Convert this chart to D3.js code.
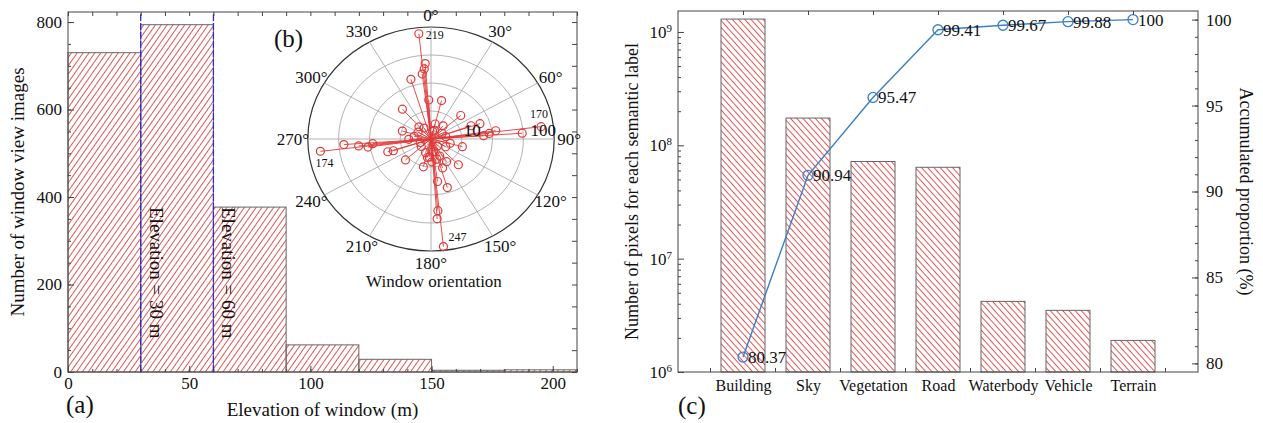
<!DOCTYPE html>
<html>
<head>
<meta charset="utf-8">
<script src="https://cdn.jsdelivr.net/npm/d3@7"></script>
<style>
  body { margin: 0; background: #fff; }
  svg text { font-family: "Liberation Serif", "Times New Roman", serif; fill: #111; }
</style>
</head>
<body>
<svg id="chart" width="1263" height="423"></svg>
<script>
// (a) window elevation histogram
const elevEdges = [0, 30, 60, 90, 120, 150, 180, 210];
const elevCounts = [730, 794, 377, 62, 29, 4, 5];
const elevTicks = [0, 50, 100, 150, 200];
const countTicks = [0, 200, 400, 600, 800];
const elevMarks = [30, 60];
const elevMarkLabels = ['Elevation = 30 m', 'Elevation = 60 m'];

// (b) window orientation, degrees clockwise from north, and counts
// the first four points carry the numbers written next to them
const orientAngles = [354, 83, 263, 174,
  356, 355, 353, 343, 357, 319, 318, 287, 14, 49, 71, 70, 86, 84, 82, 86, 14,
  266, 264, 262, 265, 252, 251, 228, 269, 194, 172, 175, 176, 163, 148, 136, 105, 104, 160,
  330, 80, 60, 170, 200, 230, 300, 20, 120, 250, 280, 140, 40, 190, 10, 185, 165, 178, 155];
const orientCounts = [219, 170, 174, 247,
  47, 36, 28, 24, 7.3, 7.5, 2.3, 4.0, 7.5, 6.2, 11, 7.2, 11.5, 15, 20.6, 69, 2.2,
  57, 29, 19, 15, 8.2, 6.3, 4.9, 2.8, 4.3, 8.9, 39, 59, 13.3, 3.9, 6.2, 4.5, 2.5, 4.8,
  1.9, 2.0, 1.8, 1.9, 2.1, 1.8, 2.0, 1.6, 2.2, 1.7, 2.2, 1.6, 2.4, 2.6, 1.5, 2.5, 2.9, 3.2, 2.6];
const orientNotes = ['219', '170', '174', '247'];
const angleTicks = d3.range(0, 360, 30);
const ringValues = [4.17, 17.3, 72.1, 300];
const radialTicks = [10, 100];

// (c) semantic labels
const categories = ['Building', 'Sky', 'Vegetation', 'Road', 'Waterbody', 'Vehicle', 'Terrain'];
const pixelCounts = [1.30e9, 1.74e8, 7.2e7, 6.4e7, 4.2e6, 3.5e6, 1.9e6];
const accumulated = [80.37, 90.94, 95.47, 99.41, 99.67, 99.88, 100];
const pixelTicks = [1e6, 1e7, 1e8, 1e9];
const propTicks = [80, 85, 90, 95, 100];

const svg = d3.select('#chart');
const axisColor = '#444';
const red = '#e03a3a';
const blueLine = '#3b7fc4';

const defs = svg.append('defs');
function hatch(id, angle, gap, color) {
  const p = defs.append('pattern')
    .attr('id', id)
    .attr('patternUnits', 'userSpaceOnUse')
    .attr('width', gap).attr('height', gap)
    .attr('patternTransform', `rotate(${angle})`);
  p.append('line')
    .attr('x1', gap / 2).attr('y1', 0).attr('x2', gap / 2).attr('y2', gap)
    .attr('stroke', color).attr('stroke-width', 1);
}
hatch('hatchA', 35, 4.8, '#e05252');
hatch('hatchC', -42, 4.6, '#e05252');

function styleAxis(g) {
  g.select('.domain').remove();
  g.selectAll('line').attr('stroke', axisColor);
  g.selectAll('text').attr('fill', '#111');
}

// ---------------- (a) ----------------
const xA = d3.scaleLinear().domain([0, 210]).range([68, 577]);
const yA = d3.scaleLinear().domain([0, 823]).range([372, 12]);
const gA = svg.append('g');

const bins = elevCounts.map((c, i) => ({ x0: elevEdges[i], x1: elevEdges[i + 1], c }));
gA.selectAll('rect.bar')
  .data(bins)
  .enter()
  .append('rect')
  .attr('class', 'bar')
  .attr('x', d => xA(d.x0))
  .attr('y', d => yA(d.c))
  .attr('width', d => xA(d.x1) - xA(d.x0))
  .attr('height', d => yA(0) - yA(d.c))
  .attr('fill', 'url(#hatchA)')
  .attr('stroke', '#666')
  .attr('stroke-width', 1);

gA.selectAll('line.mark')
  .data(elevMarks)
  .enter()
  .append('line')
  .attr('x1', d => xA(d)).attr('x2', d => xA(d))
  .attr('y1', yA(0)).attr('y2', yA.range()[1])
  .attr('stroke', '#2a2ae0')
  .attr('stroke-width', 1.3)
  .attr('stroke-dasharray', '7,2');

gA.selectAll('text.mark')
  .data(elevMarks)
  .enter()
  .append('text')
  .attr('transform', d => `translate(${xA(d) + 9},207) rotate(90)`)
  .attr('font-size', 19)
  .text((d, i) => elevMarkLabels[i]);

gA.append('rect')
  .attr('x', xA(0)).attr('y', yA.range()[1])
  .attr('width', xA(210) - xA(0)).attr('height', yA(0) - yA.range()[1])
  .attr('fill', 'none').attr('stroke', axisColor);

const minorElev = d3.range(0, 211, 10);
const minorCount = d3.range(0, 823, 50);
gA.append('g').attr('transform', `translate(0,${yA(0)})`)
  .call(d3.axisBottom(xA).tickValues(elevTicks).tickSize(-6).tickPadding(5))
  .call(styleAxis).selectAll('text').attr('font-size', 17).attr('font-family', 'Liberation Serif');
gA.append('g').attr('transform', `translate(0,${yA(0)})`)
  .call(d3.axisBottom(xA).tickValues(minorElev).tickSize(-3).tickFormat(''))
  .call(styleAxis);
gA.append('g').attr('transform', `translate(0,${yA.range()[1]})`)
  .call(d3.axisTop(xA).tickValues(minorElev).tickSize(-4).tickFormat(''))
  .call(styleAxis);
gA.append('g').attr('transform', `translate(${xA(0)},0)`)
  .call(d3.axisLeft(yA).tickValues(countTicks).tickSize(-6).tickPadding(6))
  .call(styleAxis).selectAll('text').attr('font-size', 17).attr('font-family', 'Liberation Serif');
gA.append('g').attr('transform', `translate(${xA(0)},0)`)
  .call(d3.axisLeft(yA).tickValues(minorCount).tickSize(-3).tickFormat(''))
  .call(styleAxis);
gA.append('g').attr('transform', `translate(${xA(210)},0)`)
  .call(d3.axisRight(yA).tickValues(minorCount).tickSize(-5).tickFormat(''))
  .call(styleAxis);

gA.append('text')
  .attr('transform', `translate(24,${(yA(0) + yA.range()[1]) / 2}) rotate(-90)`)
  .attr('text-anchor', 'middle')
  .attr('font-size', 19)
  .text('Number of window view images');
gA.append('text')
  .attr('x', (xA(0) + xA(210)) / 2).attr('y', 416)
  .attr('text-anchor', 'middle')
  .attr('font-size', 19)
  .text('Elevation of window (m)');
gA.append('text').attr('x', 66).attr('y', 413).attr('font-size', 25).text('(a)');

// ---------------- (b) ----------------
const R = 112, SX = 1.1, CX = 431, CY = 139;
const rS = d3.scaleLog().domain([1, 300]).range([0, R]);
const rad = a => a * Math.PI / 180;
const pol = (a, r) => [CX + SX * r * Math.sin(rad(a)), CY - r * Math.cos(rad(a))];
const gB = svg.append('g');

gB.selectAll('ellipse.ring')
  .data(ringValues)
  .enter()
  .append('ellipse')
  .attr('cx', CX).attr('cy', CY)
  .attr('rx', d => SX * rS(d)).attr('ry', d => rS(d))
  .attr('fill', 'none')
  .attr('stroke', (d, i) => i === ringValues.length - 1 ? '#333' : '#aaa')
  .attr('stroke-width', (d, i) => i === ringValues.length - 1 ? 1.2 : 0.9);

gB.selectAll('line.spoke')
  .data(angleTicks)
  .enter()
  .append('line')
  .attr('x1', d => pol(d, 0)[0]).attr('y1', d => pol(d, 0)[1])
  .attr('x2', d => pol(d, R)[0]).attr('y2', d => pol(d, R)[1])
  .attr('stroke', '#aaa').attr('stroke-width', 0.9);

gB.selectAll('text.ang')
  .data(angleTicks)
  .enter()
  .append('text')
  .attr('x', d => CX + (SX * R + 15) * Math.sin(rad(d)))
  .attr('y', d => CY - (R + 12) * Math.cos(rad(d)))
  .attr('text-anchor', 'middle')
  .attr('dominant-baseline', 'central')
  .attr('font-size', 17)
  .text(d => d + '°');

const pts = orientAngles.map((a, i) => ({ a, v: orientCounts[i], i }));
gB.selectAll('line.stem')
  .data(pts)
  .enter()
  .append('line')
  .attr('x1', CX).attr('y1', CY)
  .attr('x2', d => pol(d.a, rS(d.v))[0])
  .attr('y2', d => pol(d.a, rS(d.v))[1])
  .attr('stroke', red).attr('stroke-width', 0.9);
gB.selectAll('circle.pt')
  .data(pts)
  .enter()
  .append('circle')
  .attr('cx', d => pol(d.a, rS(d.v))[0])
  .attr('cy', d => pol(d.a, rS(d.v))[1])
  .attr('r', 4)
  .attr('fill', 'none')
  .attr('stroke', red).attr('stroke-width', 1.2);

const noteShift = [[7, 5, 'start'], [-2, -9, 'middle'], [4, 16, 'middle'], [5, -6, 'start']];
gB.selectAll('text.note')
  .data(orientNotes)
  .enter()
  .append('text')
  .attr('x', (d, i) => pol(orientAngles[i], rS(orientCounts[i]))[0] + noteShift[i][0])
  .attr('y', (d, i) => pol(orientAngles[i], rS(orientCounts[i]))[1] + noteShift[i][1])
  .attr('text-anchor', (d, i) => noteShift[i][2])
  .attr('font-size', 12)
  .text(d => d);

gB.selectAll('text.rtick')
  .data(radialTicks)
  .enter()
  .append('text')
  .attr('x', d => pol(90, rS(d))[0])
  .attr('y', CY - 3)
  .attr('text-anchor', (d, i) => i === 0 ? 'end' : 'start')
  .attr('font-size', 17)
  .text(d => d);

gB.append('text').attr('x', 274).attr('y', 47).attr('font-size', 25).text('(b)');
gB.append('text').attr('x', CX + 3).attr('y', 287)
  .attr('text-anchor', 'middle').attr('font-size', 17).text('Window orientation');

// ---------------- (c) ----------------
const xC = d3.scalePoint().domain(categories).range([678, 1198]).padding(1);
const yL = d3.scaleLog().domain([1e6, Math.pow(10, 9.185)]).range([372, 11]);
const yR = d3.scaleLinear().domain([79.5, 100.5]).range([372, 11]);
const gC = svg.append('g');
const barW = 44;

gC.selectAll('rect.bar')
  .data(categories)
  .enter()
  .append('rect')
  .attr('x', d => xC(d) - barW / 2)
  .attr('y', (d, i) => yL(pixelCounts[i]))
  .attr('width', barW)
  .attr('height', (d, i) => yL.range()[0] - yL(pixelCounts[i]))
  .attr('fill', 'url(#hatchC)')
  .attr('stroke', '#666').attr('stroke-width', 1);

gC.append('rect')
  .attr('x', 678).attr('y', 11).attr('width', 520).attr('height', 361)
  .attr('fill', 'none').attr('stroke', axisColor);

const line = d3.line().x((d, i) => xC(categories[i])).y(d => yR(d));
gC.append('path')
  .datum(accumulated)
  .attr('fill', 'none').attr('stroke', blueLine).attr('stroke-width', 1.4)
  .attr('d', line);
gC.selectAll('circle.acc')
  .data(accumulated)
  .enter()
  .append('circle')
  .attr('cx', (d, i) => xC(categories[i]))
  .attr('cy', d => yR(d))
  .attr('r', 5)
  .attr('fill', 'none').attr('stroke', blueLine).attr('stroke-width', 1.3);
gC.selectAll('text.acc')
  .data(accumulated)
  .enter()
  .append('text')
  .attr('x', (d, i) => xC(categories[i]) + 5)
  .attr('y', d => yR(d) + 6)
  .attr('font-size', 17)
  .text(d => d);

// left log axis
const minorPix = [];
pixelTicks.forEach(t => { for (let k = 2; k <= 9; k++) if (t * k <= yL.domain()[1]) minorPix.push(t * k); });
gC.append('g').attr('transform', 'translate(678,0)')
  .call(d3.axisLeft(yL).tickValues(pixelTicks).tickSize(-6).tickPadding(6))
  .call(styleAxis)
  .selectAll('text')
  .attr('font-size', 17)
  .each(function (d) {
    const t = d3.select(this);
    t.text('10');
    t.append('tspan').attr('dy', '-0.55em').attr('font-size', 11).text(Math.round(Math.log10(d)));
  });
gC.append('g').attr('transform', 'translate(678,0)')
  .call(d3.axisLeft(yL).tickValues(minorPix).tickSize(-3).tickFormat(''))
  .call(styleAxis);

// right proportion axis
gC.append('g').attr('transform', 'translate(1198,0)')
  .call(d3.axisRight(yR).tickValues(propTicks).tickSize(-6).tickPadding(8))
  .call(styleAxis).selectAll('text').attr('font-size', 17);
gC.append('g').attr('transform', 'translate(1198,0)')
  .call(d3.axisRight(yR).tickValues(d3.range(80, 101, 1)).tickSize(-3).tickFormat(''))
  .call(styleAxis);

// category axis: labels under bars, ticks between them
gC.append('g').attr('transform', 'translate(0,372)')
  .call(d3.axisBottom(xC).tickSize(0).tickPadding(8))
  .call(styleAxis).selectAll('text').attr('font-size', 16);
const step = xC.step();
const mids = categories.map(c => xC(c) - step / 2).concat([xC(categories[categories.length - 1]) + step / 2]);
gC.selectAll('line.mid')
  .data(mids)
  .enter()
  .append('line')
  .attr('x1', d => d).attr('x2', d => d)
  .attr('y1', 372).attr('y2', 368)
  .attr('stroke', axisColor);
gC.append('g').attr('transform', 'translate(0,11)')
  .call(d3.axisTop(xC).tickSize(-4).tickFormat(''))
  .call(styleAxis);

gC.append('text')
  .attr('transform', `translate(638,${(372 + 11) / 2}) rotate(-90)`)
  .attr('text-anchor', 'middle').attr('font-size', 18)
  .text('Number of pixels for each semantic label');
gC.append('text')
  .attr('transform', `translate(1240,${(372 + 11) / 2}) rotate(90)`)
  .attr('text-anchor', 'middle').attr('font-size', 18)
  .text('Accumulated proportion (%)');
gC.append('text').attr('x', 678).attr('y', 414).attr('font-size', 25).text('(c)');
</script>
</body>
</html>
